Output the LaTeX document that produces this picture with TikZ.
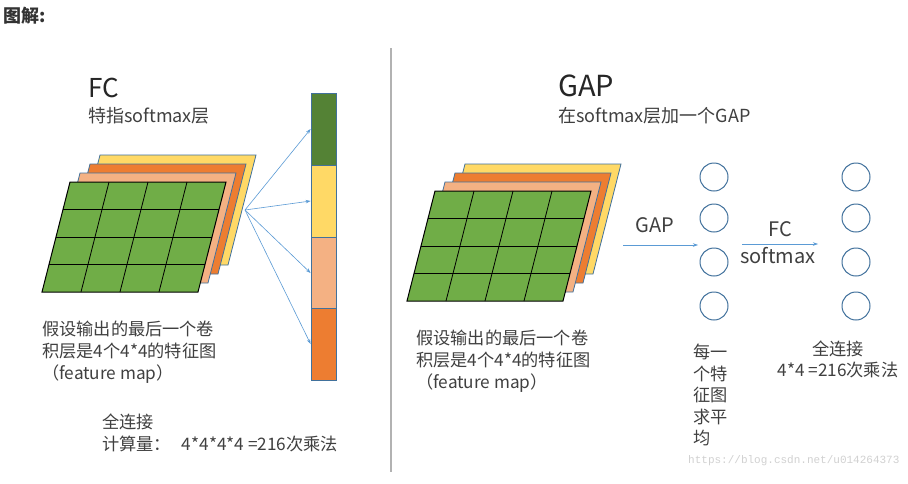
\documentclass[tikz,border=0pt]{standalone}
\usepackage{fontspec}
\setmainfont{Noto Sans CJK SC}
\newfontfamily\markfont{Liberation Mono}
\usepackage{xcolor}
\usepackage{tikz}
\usetikzlibrary{arrows.meta}

\definecolor{mapgreen}{HTML}{70AD47}
\definecolor{bargreen}{HTML}{548235}
\definecolor{mapyellow}{HTML}{FFD966}
\definecolor{mappeach}{HTML}{F4B183}
\definecolor{maporange}{HTML}{ED7D31}
\definecolor{edgeblue}{HTML}{41719C}
\definecolor{arrowblue}{HTML}{5B9BD5}
\definecolor{inkgray}{HTML}{404040}

\tikzset{
  layer/.style={draw=edgeblue, line width=0.8pt},
  txt/.style={inner sep=0pt, text=inkgray, font=\fontsize{17.2}{22}\selectfont},
  bigtxt/.style={inner sep=0pt, text=black!85, font=\fontsize{#1}{#1}\selectfont},
  barseg/.style={draw=edgeblue, line width=0.8pt, minimum width=25pt, minimum height=72pt, inner sep=0pt},
  neuron/.style={circle, draw=edgeblue, line width=1pt, minimum size=28pt, inner sep=0pt},
  thinarrow/.style={draw=arrowblue, line width=0.6pt, -{Stealth[length=5pt,width=3.5pt]}}
}

\begin{document}
\begin{tikzpicture}[x=1pt, y=-1pt]
\fill[white] (0,0) rectangle (908,483);
\useasboundingbox (0,0) rectangle (908,483);

% heading
\node[inner sep=0pt, anchor=north west, text=black!80, font=\fontsize{18}{20}\selectfont\bfseries] (head) at (3,7) {图解:};
\draw[black!30, line width=1.2pt] (391,48) -- (391,472);

% feature maps, left and right
\foreach \sx/\sy in {0/0,365/9}{
\begin{scope}[shift={(\sx,\sy)}]
\filldraw[layer, fill=mapyellow] (100,155) -- (256,155) -- (228,265) -- (72,265) -- cycle;
\filldraw[layer, fill=maporange] (90,164) -- (246,164) -- (218,274) -- (62,274) -- cycle;
\filldraw[layer, fill=mappeach] (80,173) -- (236,173) -- (208,283) -- (52,283) -- cycle;
\filldraw[draw=black, line width=1pt, fill=mapgreen] (70,182) -- (226,182) -- (198,292) -- (42,292) -- cycle;
\foreach \i in {1,2,3}{
  \draw[line width=0.8pt] (70+39*\i,182) -- (42+39*\i,292);
  \draw[line width=0.8pt] (70-7*\i,182+27.5*\i) -- (226-7*\i,182+27.5*\i);
}
\end{scope}
}

% FC side
\node[bigtxt=26, anchor=north west] (fctitle) at (88,78) {FC};
\node[txt, anchor=north west, font=\fontsize{18}{22}\selectfont] (fcsub) at (88,107) {特指softmax层};

\node[barseg, fill=bargreen] (s1) at (323.5,129) {};
\node[barseg, fill=mapyellow] (s2) at (323.5,201) {};
\node[barseg, fill=mappeach] (s3) at (323.5,273) {};
\node[barseg, fill=maporange] (s4) at (323.5,344) {};

\coordinate (fcsrc) at (245,210);
\draw[thinarrow] (fcsrc) -- (s1.west);
\draw[thinarrow] (fcsrc) -- (s2.west);
\draw[thinarrow] (fcsrc) -- (s3.west);
\draw[thinarrow] (fcsrc) -- (s4.west);

\node[txt, anchor=north west, align=left] (fcnote) at (42,321)
  {假设输出的最后一个卷\\积层是4个4*4的特征图\\（feature map）};
\node[txt, anchor=north west, align=left] (fccost) at (102,414)
  {全连接\\计算量：\hspace{11pt}4*4*4*4 =216次乘法};

% GAP side
\node[bigtxt=29, anchor=north west] (gaptitle) at (558,75) {GAP};
\node[txt, anchor=north west, font=\fontsize{18}{22}\selectfont] (gapsub) at (558,107) {在softmax层加一个GAP};

\node[neuron] (a1) at (714,177) {};
\node[neuron] (a2) at (714,218) {};
\node[neuron] (a3) at (714,262) {};
\node[neuron] (a4) at (714,306) {};
\node[neuron] (b1) at (856,177) {};
\node[neuron] (b2) at (856,218) {};
\node[neuron] (b3) at (856,262) {};
\node[neuron] (b4) at (856,306) {};

\coordinate (gapsrc) at (623,245);
\coordinate (gapdst) at (698,245);
\draw[thinarrow] (gapsrc) -- (gapdst);
\node[bigtxt=20, text=inkgray, anchor=south] (gaplbl) at (655,233) {GAP};

\coordinate (fcsrc2) at (742,244);
\coordinate (fcdst2) at (818,244);
\draw[thinarrow] (fcsrc2) -- (fcdst2);
\node[bigtxt=20, text=inkgray, anchor=south] (fclbl) at (780,237) {FC};
\node[bigtxt=20, text=inkgray, anchor=base] (smlbl) at (778,263) {softmax};

\node[txt, anchor=north west, align=left] (gapnote) at (416,330)
  {假设输出的最后一个卷\\积层是4个4*4的特征图\\（feature map）};
\node[txt, anchor=north west, align=left, font=\fontsize{17.2}{21.5}\selectfont] (avgnote) at (693,344)
  {每一\\个特\\征图\\求平\\均};
\node[txt, anchor=north, align=center, font=\fontsize{17.2}{21}\selectfont] (gapcost) at (838,341)
  {全连接\\4*4 =216次乘法};

\node[inner sep=0pt, anchor=base west, text=black!18, font=\markfont\fontsize{11}{13}\selectfont] (mark) at (688,463)
  {https://blog.csdn.net/u014264373};
\end{tikzpicture}
\end{document}
